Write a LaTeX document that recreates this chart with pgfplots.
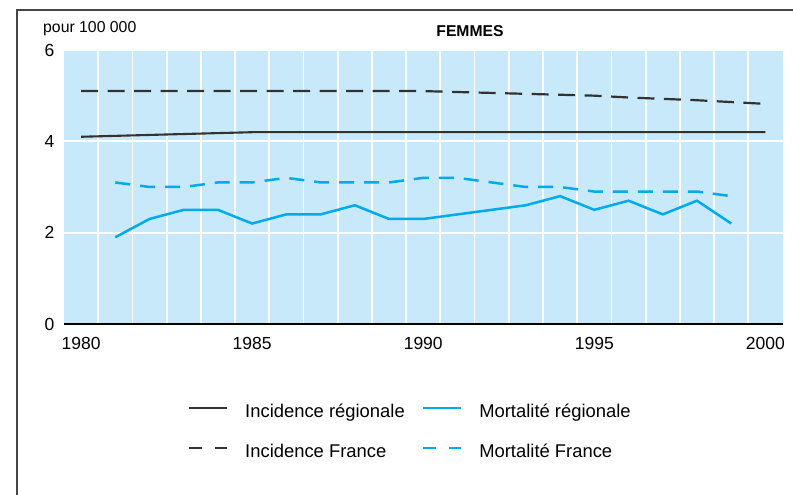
\documentclass[border=0pt]{standalone}
\usepackage{pgfplots}
\pgfplotsset{compat=1.18}
\usepackage{fontspec}
\setmainfont{Liberation Sans}
\definecolor{bleu}{RGB}{0,170,235}
\definecolor{fond}{RGB}{199,233,249}
\definecolor{gris}{RGB}{50,50,50}
\definecolor{cadre}{RGB}{70,70,70}
\begin{document}
\begin{tikzpicture}
\useasboundingbox (0bp,0bp) rectangle (793bp,495bp);
\draw[line width=1.4bp, cadre] (17bp,0bp) -- (17bp,485bp) -- (793bp,485bp);
\node[anchor=base west, inner sep=0pt, font=\fontsize{15.8bp}{18bp}\selectfont] at (43bp,462.7bp) {pour 100 000};
\node[anchor=base, inner sep=0pt, font=\fontsize{15.7bp}{18bp}\selectfont\bfseries] at (470bp,458.3bp) {FEMMES};
\begin{axis}[
  at={(64bp,171bp)}, anchor=south west,
  scale only axis, width=718.5bp, height=274bp,
  xmin=1979.5, xmax=2000.5, ymin=0, ymax=6,
  axis background/.style={fill=fond},
  axis x line*=bottom, axis y line*=left,
  x axis line style={-, black, line width=1.3bp},
  y axis line style={draw=none},
  xtick={1980,1985,1990,1995,2000},
  minor xtick={1980.5,1981.5,1982.5,1983.5,1984.5,1985.5,1986.5,1987.5,1988.5,1989.5,1990.5,1991.5,1992.5,1993.5,1994.5,1995.5,1996.5,1997.5,1998.5,1999.5},
  ytick={0,2,4,6},
  xminorgrids=true, ymajorgrids=true,
  minor grid style={white, line width=1.8bp},
  major grid style={white, line width=1.8bp},
  major tick length=0pt, minor tick length=0pt,
  tick style={draw=none},
  /pgf/number format/assume math mode=true,
  /pgf/number format/set thousands separator={},
  ticklabel style={font=\fontsize{17.5bp}{20bp}\selectfont},
  xticklabel style={yshift=-10bp},
  yticklabel style={xshift=-6bp},
  legend columns=2,
  legend cell align=left,
  legend style={at={(rel axis cs:0.1726,-0.2945)}, anchor=north west,
    draw=none, fill=none, inner sep=0pt, outer sep=0pt,
    column sep=17bp, row sep=23bp,
    font=\fontsize{18.4bp}{21bp}\selectfont,
    nodes={inner sep=0pt, text height=13bp, text depth=4bp}},
  legend image code/.code={\draw[#1] (0bp,5bp) -- (38bp,5bp);},
]
\addplot[gris, line width=2.1bp] coordinates {
(1980,4.1)(1981,4.12)(1982,4.14)(1983,4.16)(1984,4.18)(1985,4.2)(1986,4.2)(1987,4.2)(1988,4.2)(1989,4.2)(1990,4.2)
(1991,4.2)(1992,4.2)(1993,4.2)(1994,4.2)(1995,4.2)(1996,4.2)(1997,4.2)(1998,4.2)(1999,4.2)(2000,4.2)};
\addlegendentry{Incidence régionale}
\addplot[bleu, line width=2.5bp] coordinates {
(1981,1.9)(1982,2.3)(1983,2.5)(1984,2.5)(1985,2.2)(1986,2.4)(1987,2.4)(1988,2.6)(1989,2.3)(1990,2.3)
(1991,2.4)(1992,2.5)(1993,2.6)(1994,2.8)(1995,2.5)(1996,2.7)(1997,2.4)(1998,2.7)(1999,2.2)};
\addlegendentry{Mortalité régionale}
\addplot[gris, line width=2.2bp, dash pattern=on 17bp off 9.5bp, legend image post style={dash pattern=on 13bp off 12.5bp}] coordinates {
(1980,5.1)(1981,5.1)(1982,5.1)(1983,5.1)(1984,5.1)(1985,5.1)(1986,5.1)(1987,5.1)(1988,5.1)(1989,5.1)(1990,5.1)
(1991,5.08)(1992,5.06)(1993,5.04)(1994,5.02)(1995,5.0)(1996,4.96)(1997,4.93)(1998,4.9)(1999,4.86)(2000,4.82)};
\addlegendentry{Incidence France}
\addplot[bleu, line width=2.5bp, dash pattern=on 15bp off 10bp, legend image post style={dash pattern=on 13bp off 12.5bp}] coordinates {
(1981,3.1)(1982,3.0)(1983,3.0)(1984,3.1)(1985,3.1)(1986,3.2)(1987,3.1)(1988,3.1)(1989,3.1)(1990,3.2)
(1991,3.2)(1992,3.1)(1993,3.0)(1994,3.0)(1995,2.9)(1996,2.9)(1997,2.9)(1998,2.9)(1999,2.8)};
\addlegendentry{Mortalité France}
\end{axis}
\end{tikzpicture}
\end{document}
